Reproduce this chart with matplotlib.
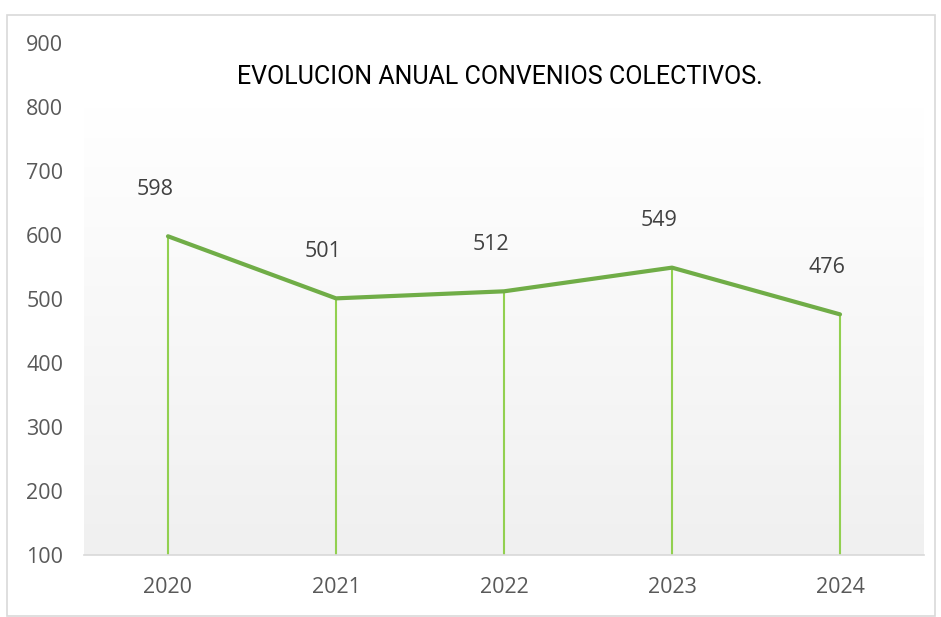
import numpy as np
import matplotlib.pyplot as plt
from matplotlib.patches import Rectangle
from matplotlib.colors import LinearSegmentedColormap

years = ['2020', '2021', '2022', '2023', '2024']
convenios = [598, 501, 512, 549, 476]
y_ticks = [100, 200, 300, 400, 500, 600, 700, 800, 900]

title = 'EVOLUCION ANUAL CONVENIOS COLECTIVOS.'

fig = plt.figure(figsize=(9.41, 6.17), dpi=100)
fig.patch.set_facecolor('white')

# light grey frame round the whole chart
fig.patches.append(Rectangle((7 / 941, 1 / 617), 928 / 941, 601 / 617,
                             transform=fig.transFigure, fill=False,
                             edgecolor='#d9d9d9', linewidth=1.2))

ax = fig.add_axes([84 / 941, 62 / 617, 840 / 941, 512 / 617])
ax.set_facecolor('none')

x = np.arange(len(years))

# plot area gradient, white on top to light grey at the bottom
grad = np.linspace(1, 0, 256).reshape(-1, 1)
cmap = LinearSegmentedColormap.from_list('bg', ['#ffffff', '#f0f0f0'])
ax.imshow(grad, extent=(-0.5, len(years) - 0.5, 100, 800), origin='lower',
          cmap=cmap, aspect='auto', zorder=0)
ax.set_xlim(-0.5, len(years) - 0.5)
ax.set_ylim(100, 900)

# drop lines
ax.vlines(x, 100, convenios, colors='#92d050', linewidth=1.5, zorder=2)
ax.plot(x, convenios, color='#70ad47', linewidth=3, solid_capstyle='round', zorder=3)

for xi, v in zip(x, convenios):
    ax.annotate(str(v), (xi, v), xytext=(-9.5, 34), textcoords='offset points',
                ha='center', va='center', fontsize=15.5, color='#404040',
                family='Open Sans')

ax.set_xticks(x)
ax.set_xticklabels(years)
ax.set_yticks(y_ticks)
for lab in ax.get_xticklabels() + ax.get_yticklabels():
    lab.set_family('Open Sans')
    lab.set_fontsize(15.5)
    lab.set_color('#595959')
ax.tick_params(axis='x', length=0, pad=16)
ax.tick_params(axis='y', length=0, pad=15)

for s in ['top', 'right', 'left']:
    ax.spines[s].set_visible(False)
ax.spines['bottom'].set_color('#d9d9d9')
ax.spines['bottom'].set_linewidth(1.2)
ax.spines['bottom'].set_zorder(4)

fig.text(500 / 941, 1 - 77 / 617, title, ha='center', va='center',
         fontsize=18, color='black', family='Roboto')

fig.savefig('out.png', dpi=100)
